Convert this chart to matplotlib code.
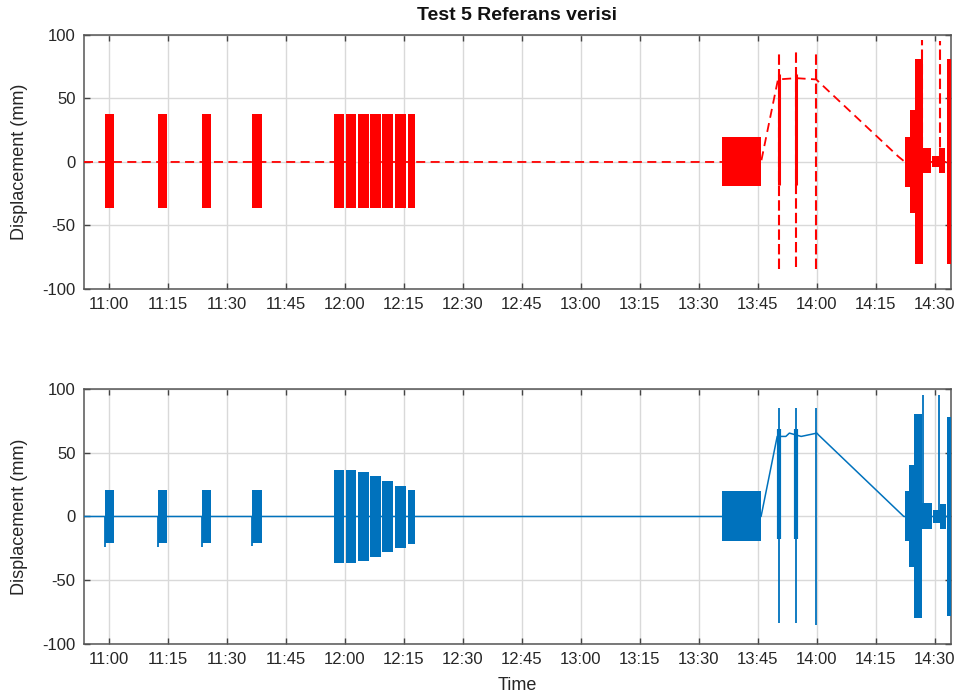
import matplotlib.pyplot as plt
from matplotlib.ticker import FuncFormatter

plt.rcParams['font.family'] = ['Liberation Sans', 'DejaVu Sans']
plt.rcParams['axes.unicode_minus'] = False

# zaman: gece yarisindan itibaren dakika (11:00 = 660)
x_min, x_max = 653.6, 874.1
tick_times = list(range(660, 871, 15))
y_ticks = [-100, -50, 0, 50, 100]

# ust panel (kirmizi, kesikli) - salinim bloklari
top_start = [659.0, 672.5, 683.6, 696.4, 717.2, 720.2, 723.2, 726.4, 729.5, 732.7, 735.9,
             815.9, 862.4, 863.7, 864.9, 866.9, 869.3, 871.1, 873.2]
top_end = [661.3, 674.7, 685.9, 698.9, 719.8, 722.8, 726.0, 729.1, 732.3, 735.5, 737.8,
           825.8, 863.8, 865.1, 866.9, 869.1, 871.0, 872.7, 874.1]
top_hi = [37.5, 37.5, 37.5, 37.5, 37.5, 37.5, 37.5, 37.5, 37.5, 37.5, 37.5,
          20, 20, 41, 81, 11, 5, 11, 81]
top_lo = [-36.5, -36.5, -36.5, -36.5, -36.5, -36.5, -36.5, -36.5, -36.5, -36.5, -36.5,
          -19, -19.5, -40, -80, -9, -4, -9, -80]

# ust panel - ince sivri cizgiler
top_spike_t = [830.4, 834.7, 839.8, 866.8, 871.3]
top_spike_hi = [85, 87, 87, 96, 95]
top_spike_lo = [-84, -83, -84, 0, 0]

# ust panel - bloklari birlestiren cizgi
top_line_t = [653.6, 825.8, 830.1, 834.7, 839.8, 840.4, 860.7, 862.4, 874.1]
top_line_v = [0, 0, 65, 66, 65, 63.3, 4.3, 0, 0]

# alt panel (mavi, duz)
bot_start = [659.0, 672.5, 683.6, 696.4, 717.2, 720.2, 723.2, 726.4, 729.5, 732.7, 735.9,
             815.9, 862.4, 863.5, 864.7, 866.8, 869.6, 871.3, 873.0]
bot_end = [661.3, 674.7, 685.9, 698.9, 719.8, 722.8, 726.0, 729.1, 732.3, 735.5, 737.8,
           825.8, 863.7, 864.7, 866.8, 869.2, 871.3, 872.8, 874.0]
bot_hi = [21, 21, 21, 21, 36.6, 36.4, 34.8, 31.4, 27.5, 23.8, 20.7,
          19.6, 19.6, 40, 80, 10.5, 5, 10, 78]
bot_lo = [-21, -21, -21, -21, -36.5, -36.3, -35, -31.6, -28.2, -24.5, -21.4,
          -19.6, -19.6, -40, -80, -10, -5, -10, -78]

bot_spike_t = [659.0, 672.5, 683.6, 696.4, 830.4, 834.7, 839.8, 866.9, 871.1]
bot_spike_hi = [0, 0, 0, 0, 85, 85, 85, 95, 95]
bot_spike_lo = [-24, -24, -24, -23, -83.6, -83.6, -85, 0, 0]

# sivri cizgilerin kalin kisimlari
core_t = [830.4, 834.7]
core_hi = [69, 69]
core_lo = [-18, -18]

bot_line_t = [653.6, 825.8, 829.9, 832.1, 833.0, 836.0, 840.0, 840.4, 862.1, 874.1]
bot_line_v = [0, 0, 62.8, 62.8, 65.4, 62.8, 65.4, 64, 0, 0]

red = '#ff0000'
blue = '#0072bd'


def time_label(v, pos):
    v = int(round(v))
    return f'{v // 60}:{v % 60:02d}'


def style_axes(ax):
    ax.set_xlim(x_min, x_max)
    ax.set_ylim(-100, 100)
    ax.set_xticks(tick_times)
    ax.set_yticks(y_ticks)
    ax.xaxis.set_major_formatter(FuncFormatter(time_label))
    ax.grid(True, color='#d9d9d9', linewidth=1.0)
    ax.set_axisbelow(True)
    ax.tick_params(direction='in', top=True, right=True, length=4, width=1.0,
                   colors='#444444', labelcolor='#262626', labelsize=12, pad=6)
    for s in ax.spines.values():
        s.set_color('#555555')
        s.set_linewidth(1.1)
    ax.set_ylabel('Displacement (mm)', fontsize=13, color='#262626')
    ax.yaxis.set_label_coords(-0.065, 0.5)


fig = plt.figure(figsize=(9.64, 6.98), dpi=100)
ax1 = fig.add_axes([0.0871, 0.5860, 0.8994, 0.3639])
ax2 = fig.add_axes([0.0871, 0.0774, 0.8994, 0.3653])

# ust panel
widths = [e - s for s, e in zip(top_start, top_end)]
heights = [h - l for h, l in zip(top_hi, top_lo)]
ax1.bar(top_start, heights, width=widths, bottom=top_lo, align='edge',
        color=red, linewidth=0, zorder=3)
ax1.vlines(top_spike_t, top_spike_lo, top_spike_hi, colors=red, linewidth=1.5,
           linestyles=(0, (5, 2)), zorder=3)
ax1.vlines(core_t, core_lo, core_hi, colors=red, linewidth=2.2, zorder=3)
ax1.plot(top_line_t, top_line_v, color=red, linewidth=1.3, linestyle=(0, (5, 3)), zorder=3)
style_axes(ax1)
ax1.text(0.5, 1.075, 'Test 5 Referans verisi', transform=ax1.transAxes,
         ha='center', va='center', fontsize=14, fontweight='bold', color='#111111')

# alt panel
widths = [e - s for s, e in zip(bot_start, bot_end)]
heights = [h - l for h, l in zip(bot_hi, bot_lo)]
ax2.bar(bot_start, heights, width=widths, bottom=bot_lo, align='edge',
        color=blue, linewidth=0, zorder=3)
ax2.vlines(bot_spike_t, bot_spike_lo, bot_spike_hi, colors=blue, linewidth=1.3, zorder=3)
ax2.vlines(core_t, core_lo, core_hi, colors=blue, linewidth=3, zorder=3)
ax2.plot(bot_line_t, bot_line_v, color=blue, linewidth=1.1, zorder=3)
style_axes(ax2)
ax2.set_xlabel('Time', fontsize=13, color='#262626')
ax2.xaxis.set_label_coords(0.5, -0.128)

plt.savefig('out.png', dpi=100)
